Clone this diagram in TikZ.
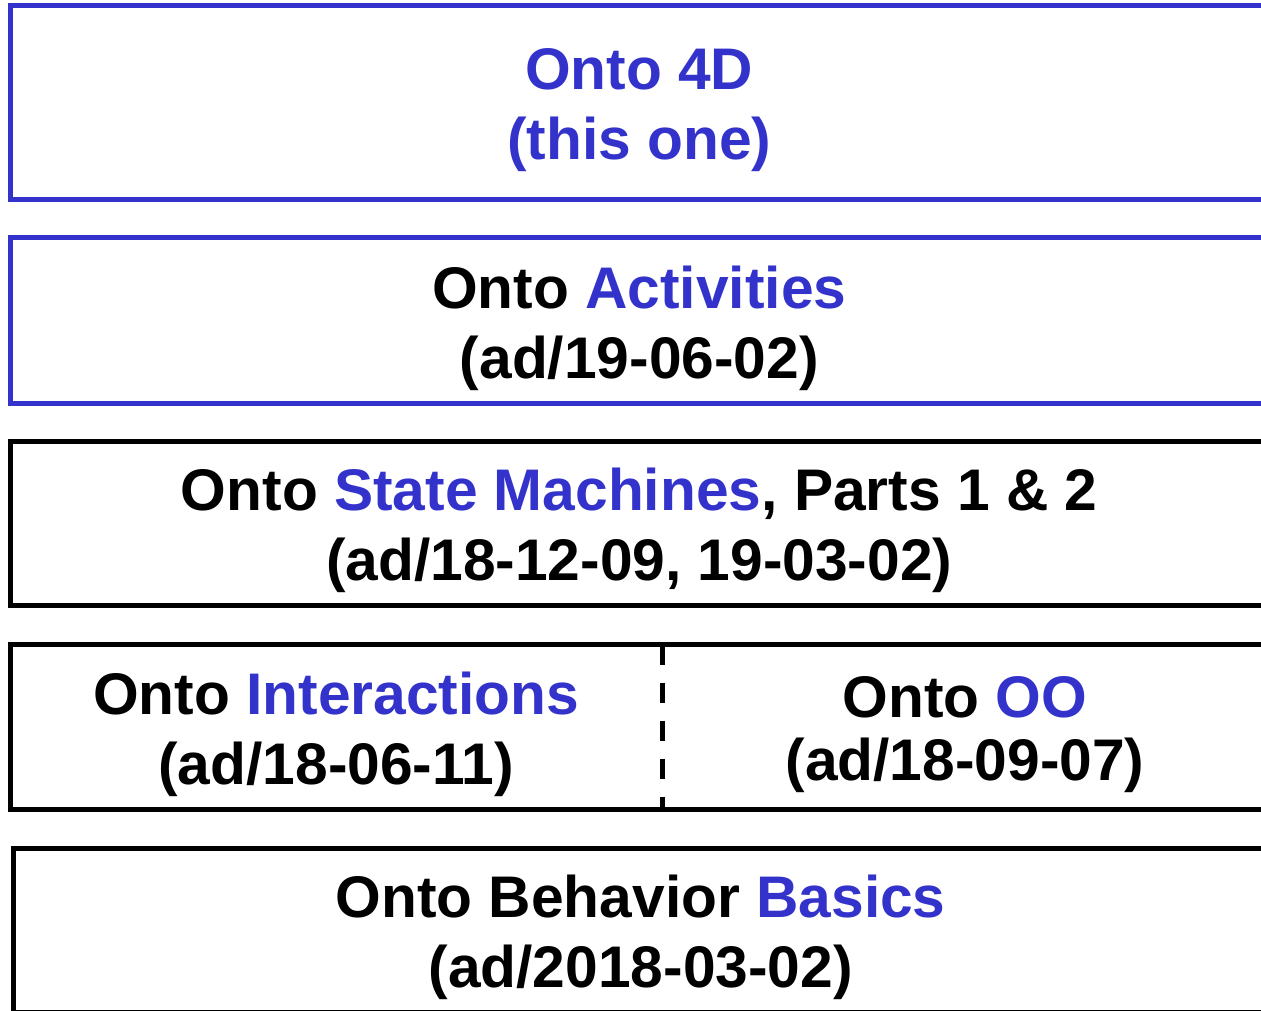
\documentclass[tikz,border=0pt]{standalone}
\usepackage{fontspec}
\setmainfont{Liberation Sans}
\definecolor{ontoblue}{RGB}{51,51,204}
\newcommand{\hl}[1]{\textcolor{ontoblue}{#1}}
\begin{document}
\begin{tikzpicture}[x=1pt,y=-1pt,
  layer/.style={draw=black,line width=5pt,rectangle,anchor=north west,inner sep=0pt,outer sep=0pt},
  cell/.style={rectangle,anchor=north west,inner sep=0pt,outer sep=0pt},
  tag/.style={align=center,inner sep=0pt,yshift=-7.5pt,font=\fontsize{58.7}{70}\selectfont\bfseries}]
\useasboundingbox (0,0) rectangle (1261,1011);
\clip (0,0) rectangle (1261,1011);
\node[layer,draw=ontoblue,minimum width=1257.5pt,minimum height=193.5pt] (fourd) at (10.5,6) {};
\node[layer,draw=ontoblue,minimum width=1257.5pt,minimum height=165pt] (activities) at (10.5,238) {};
\node[layer,minimum width=1257.5pt,minimum height=164.5pt] (statemach) at (10.5,441) {};
\node[cell,minimum width=651.5pt,minimum height=165pt] (interact) at (10.5,644.5) {};
\node[cell,minimum width=606pt,minimum height=165pt] (oo) at (662,644.5) {};
\draw[line width=5pt] (interact.north west) rectangle (oo.south east);
\draw[line width=5pt,dash pattern=on 20pt off 18pt] (interact.north east) -- (interact.south east);
\node[layer,minimum width=1254.7pt,minimum height=164pt] (basics) at (13.3,848) {};
\node[tag,text=ontoblue] (fourdtext) at (fourd.center) {Onto 4D\\(this one)};
\node[tag] (activitiestext) at (activities.center) {Onto \hl{Activities}\\(ad/19-06-02)};
\node[tag] (statemachtext) at (statemach.center) {Onto \hl{State Machines}, Parts 1 \& 2\\(ad/18-12-09, 19-03-02)};
\node[tag] (interacttext) at (interact.center) {Onto \hl{Interactions}\\(ad/18-06-11)};
\node[tag,font=\fontsize{58.7}{63}\selectfont\bfseries] (ootext) at (oo.center) {Onto \hl{OO}\\(ad/18-09-07)};
\node[tag] (basicstext) at (basics.center) {Onto Behavior \hl{Basics}\\(ad/2018-03-02)};
\end{tikzpicture}
\end{document}
